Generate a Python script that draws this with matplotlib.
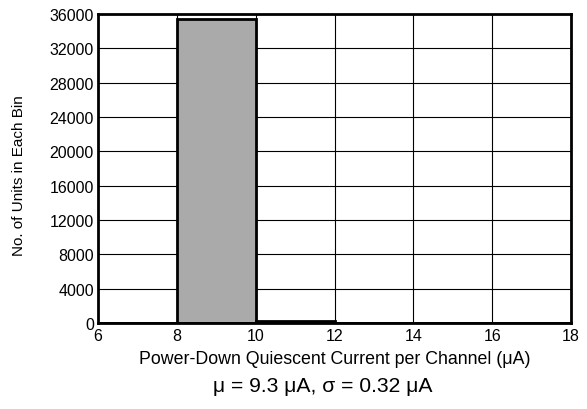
import matplotlib
matplotlib.use('Agg')
from matplotlib import pyplot as plt

# histogram bins (uA) and counts
bin_edges = [6, 8, 10, 12, 14, 16, 18]
counts = [0, 35400, 250, 0, 0, 0]
x_ticks = [6, 8, 10, 12, 14, 16, 18]
y_ticks = [0, 4000, 8000, 12000, 16000, 20000, 24000, 28000, 32000, 36000]

plt.rcParams['font.family'] = ['Liberation Sans', 'DejaVu Sans']

fig = plt.figure(figsize=(5.87, 4.10), dpi=100)
ax = fig.add_axes([0.167, 0.21, 0.806, 0.753])

lefts = bin_edges[:-1]
widths = [b - a for a, b in zip(bin_edges[:-1], bin_edges[1:])]
ax.bar(lefts, counts, width=widths, align='edge', color='#aaaaaa',
       edgecolor='black', linewidth=2, zorder=3)

ax.set_xlim(6, 18)
ax.set_ylim(0, 36000)
ax.set_xticks(x_ticks)
ax.set_yticks(y_ticks)
ax.grid(True, color='black', linewidth=0.8, zorder=0)
ax.tick_params(length=0, labelsize=11.5)
ax.tick_params(axis='x', pad=4)
ax.tick_params(axis='y', pad=3)
for s in ax.spines.values():
    s.set_linewidth(2)
    s.set_zorder(4)

ax.set_xlabel('Power-Down Quiescent Current per Channel (\u03bcA)', fontsize=12.8, labelpad=5)
ax.set_ylabel('No. of Units in Each Bin', fontsize=11)
# put the y label a bit further out and slightly below centre
ax.yaxis.set_label_coords(-0.152, 0.48)

fig.text(0.549, 0.044, '\u03bc = 9.3 \u03bcA, \u03c3 = 0.32 \u03bcA', ha='center',
         va='baseline', fontsize=15.2)

fig.savefig('out.png', dpi=100)
